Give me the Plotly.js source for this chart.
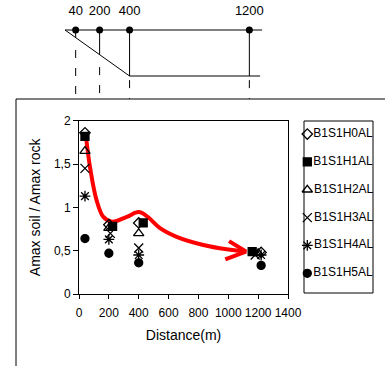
<!DOCTYPE html>
<html><head><meta charset="utf-8">
<script src="https://cdn.plot.ly/plotly-3.0.1.min.js"></script>
<style>html,body{margin:0;padding:0;background:#fff}#c{width:385px;height:366px}</style>
</head><body><div id="c"></div>
<script>
// ---- data ----
const seriesNames = ["B1S1H0AL","B1S1H1AL","B1S1H2AL","B1S1H3AL","B1S1H4AL","B1S1H5AL"];
const xH0 = [40, 200, 400, 1220]; const yH0 = [1.86, 0.80, 0.82, 0.48];
const xH1 = [40, 225, 430, 1160]; const yH1 = [1.82, 0.78, 0.82, 0.49];
const xH2 = [40, 200, 400, 1200]; const yH2 = [1.65, 0.76, 0.70, 0.47];
const xH3 = [40, 210, 400, 1180]; const yH3 = [1.45, 0.70, 0.53, 0.45];
const xH4 = [40, 200, 400, 1220]; const yH4 = [1.13, 0.63, 0.45, 0.45];
const xH5 = [40, 200, 400, 1220]; const yH5 = [0.64, 0.47, 0.36, 0.33];
// hand-drawn red trend arrow
const trendX = [50, 75, 118, 163, 220, 320, 400, 460, 543, 654, 833, 989, 1115];
const trendY = [1.77, 1.45, 1.08, 0.89, 0.835, 0.89, 0.945, 0.89, 0.76, 0.66, 0.566, 0.516, 0.49];
const arrowHeadX = [1005, 1118, 980];
const arrowHeadY = [0.61, 0.49, 0.40];
// site sketch
const stations = [40, 200, 400, 1200];
const stationLabels = ["40", "200", "400", "1200"];
const xTicks = [0, 200, 400, 600, 800, 1000, 1200, 1400];
const yTicks = [0, 0.5, 1, 1.5, 2];

const FONT = "Arial, 'Liberation Sans', sans-serif";
const symbols = ["diamond-open","square","triangle-up-open","x-thin-open","asterisk-open","circle"];
const sizes = [8, 8, 9, 9, 9, 8];
const xs = [xH0,xH1,xH2,xH3,xH4,xH5], ys = [yH0,yH1,yH2,yH3,yH4,yH5];

const traces = [];
// red trend
traces.push({x: trendX, y: trendY, mode: 'lines', line: {color: '#ff0000', width: 4, shape: 'spline', smoothing: 1}, showlegend: false, hoverinfo: 'skip'});
traces.push({x: arrowHeadX, y: arrowHeadY, mode: 'lines', line: {color: '#ff0000', width: 4}, showlegend: false, hoverinfo: 'skip'});
// series
for (let i = 0; i < 6; i++) {
  traces.push({x: xs[i], y: ys[i], name: seriesNames[i], mode: 'markers', showlegend: false, cliponaxis: false,
    marker: {symbol: symbols[i], size: sizes[i], color: '#000', line: {color: '#000', width: 1.3}}});
}
// manual legend (x3/y3)
for (let i = 0; i < 6; i++) {
  traces.push({x: [3.3], y: [i], text: [seriesNames[i]], mode: 'markers+text', textposition: 'middle right',
    xaxis: 'x3', yaxis: 'y3', showlegend: false, cliponaxis: false, hoverinfo: 'skip',
    textfont: {family: FONT, size: 12, color: '#000'},
    marker: {symbol: symbols[i], size: sizes[i], color: '#000', line: {color: '#000', width: 1.3}}});
}
// site sketch (x2/y2): depth 0 = surface, 1 = rock line
const x0 = -31, xEnd = 1285, xLowEnd = 1272, xRock = 400;
const sk = (x, y, dash) => ({x, y, xaxis: 'x2', yaxis: 'y2', mode: 'lines', line: {color: '#000', width: 1, dash: dash || 'solid'}, showlegend: false, hoverinfo: 'skip'});
traces.push(sk([x0, xEnd], [0, 0]));
traces.push(sk([x0, xRock], [0, 1]));
traces.push(sk([xRock, xLowEnd], [1, 1]));
stations.forEach((s) => {
  const d = Math.min(1, (s - x0) / (xRock - x0));
  traces.push(sk([s, s], [0, d]));
  const start = d < 1 ? d + 0.27 : d + 0.09;
  traces.push(sk([s, s], [start, 1.5], '8px,10px'));
});
traces.push({x: stations, y: stations.map(() => 0), xaxis: 'x2', yaxis: 'y2', mode: 'markers', marker: {color: '#000', size: 7}, showlegend: false, hoverinfo: 'skip'});
traces.push({x: stations, y: stations.map(() => -0.39), text: stationLabels, xaxis: 'x2', yaxis: 'y2', mode: 'text', textposition: 'middle center', textfont: {family: FONT, size: 13, color: '#000'}, showlegend: false, hoverinfo: 'skip', cliponaxis: false});

const W = 385, H = 366;
const layout = {
  width: W, height: H, margin: {l: 0, r: 0, t: 0, b: 0},
  paper_bgcolor: '#fff', plot_bgcolor: '#fff', separators: ',.',
  font: {family: FONT, size: 12, color: '#000'},
  showlegend: false,
  xaxis: {domain: [79/W, 288/W], range: [0, 1400], tickvals: xTicks, ticks: 'outside', ticklen: 4, tickcolor: '#000',
    showline: true, linecolor: '#000', linewidth: 1, mirror: true, showgrid: false, zeroline: false, anchor: 'y',
    ticklabelstandoff: 4, tickfont: {size: 12},
    title: {text: 'Distance(m)', font: {size: 14}, standoff: 10}},
  yaxis: {domain: [(H-294)/H, (H-120.7)/H], range: [0, 2], tickvals: yTicks, ticks: 'outside', ticklen: 5, tickcolor: '#000',
    showline: true, linecolor: '#000', linewidth: 1, mirror: true, showgrid: false, zeroline: false, anchor: 'x',
    tickfont: {size: 12},
    title: {text: 'Amax soil / Amax rock', font: {size: 14}, standoff: 10}},
  xaxis2: {domain: [54.7/W, 279.3/W], range: [-100, 1400], visible: false, anchor: 'y2'},
  yaxis2: {domain: [(H-99)/H, (H-7)/H], range: [1.5, -0.5], visible: false, anchor: 'x2'},
  xaxis3: {domain: [304/W, 373/W], range: [0, 69], visible: false, anchor: 'y3'},
  yaxis3: {domain: [(H-293)/H, (H-121)/H], range: [5.707, -0.467], visible: false, anchor: 'x3'},
  shapes: [
    {type: 'rect', xref: 'x3 domain', yref: 'y3 domain', x0: 0, x1: 1, y0: 0, y1: 1, line: {color: '#000', width: 1}, layer: 'below'},
    {type: 'line', xref: 'paper', yref: 'paper', x0: 16/W, x1: 16/W, y0: (H-99)/H, y1: 0, line: {color: '#000', width: 1}},
    {type: 'line', xref: 'paper', yref: 'paper', x0: 16/W, x1: 1, y0: (H-99)/H, y1: (H-99)/H, line: {color: '#000', width: 1}}
  ]
};
Plotly.newPlot('c', traces, layout, {displayModeBar: false, staticPlot: true});
</script></body></html>
